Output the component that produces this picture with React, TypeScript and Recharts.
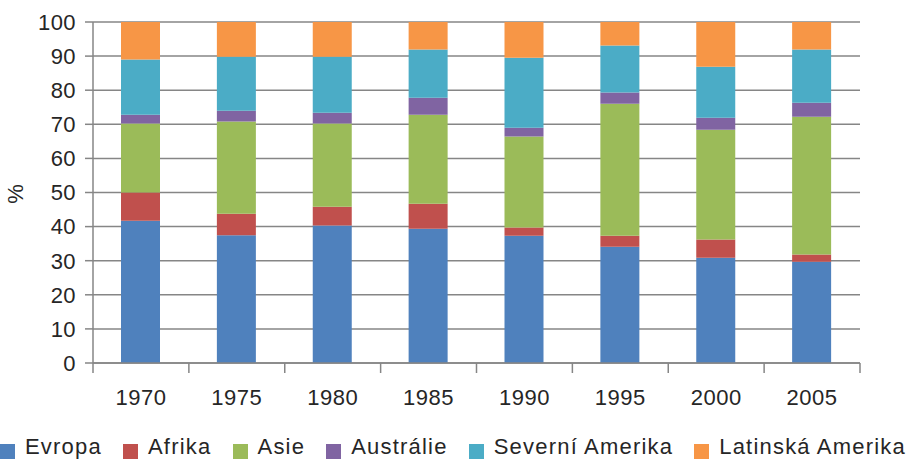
import { Bar, BarChart, CartesianGrid, Label, Legend, XAxis, YAxis } from "recharts"

const years = ["1970", "1975", "1980", "1985", "1990", "1995", "2000", "2005"]

const evropa = [41.7, 37.5, 40.3, 39.4, 37.3, 34.1, 30.9, 29.7]
const afrika = [8.3, 6.3, 5.5, 7.3, 2.4, 3.2, 5.3, 2.1]
const asie = [20.2, 27.0, 24.4, 26.1, 26.7, 38.7, 32.2, 40.4]
const australie = [2.6, 3.2, 3.2, 5.0, 2.6, 3.3, 3.5, 4.1]
const severniAmerika = [16.2, 15.8, 16.4, 14.1, 20.5, 13.8, 15.0, 15.6]
const latinskaAmerika = [11.0, 10.2, 10.2, 8.1, 10.5, 6.9, 13.1, 8.1]

const yTicks = [0, 10, 20, 30, 40, 50, 60, 70, 80, 90, 100]

const series = [
  { key: "evropa", name: "Evropa", color: "#4f81bd", values: evropa },
  { key: "afrika", name: "Afrika", color: "#c0504d", values: afrika },
  { key: "asie", name: "Asie", color: "#9bbb59", values: asie },
  { key: "australie", name: "Austrálie", color: "#8064a2", values: australie },
  { key: "severni", name: "Severní Amerika", color: "#4bacc6", values: severniAmerika },
  { key: "latinska", name: "Latinská Amerika", color: "#f79646", values: latinskaAmerika },
]

const data = years.map((year, i) => {
  const row: Record<string, string | number> = { year }
  series.forEach((s) => {
    row[s.key] = s.values[i]
  })
  return row
})

const W = 906
const H = 462
const FONT = "'Liberation Sans', Arial, Helvetica, sans-serif"
const TEXT = "#262626"
const GRID = "#868686"

// category labels in the middle, tick marks on the band edges
const YearTick = (props: any) => {
  const { x, y, payload, index, visibleTicksCount } = props
  const half = payload?.offset ?? (W - 93 - 46) / years.length / 2
  const last = index === visibleTicksCount - 1
  return (
    <g>
      <line x1={x - half} x2={x - half} y1={y} y2={y + 10} stroke={GRID} strokeWidth={1.5} />
      {last && <line x1={x + half} x2={x + half} y1={y} y2={y + 10} stroke={GRID} strokeWidth={1.5} />}
      <text
        x={x}
        y={y + 42}
        textAnchor="middle"
        fill={TEXT}
        fontSize={22}
        fontFamily={FONT}
        letterSpacing={0.5}
      >
        {payload.value}
      </text>
    </g>
  )
}

const LegendRow = () => (
  <div
    style={{
      display: "flex",
      justifyContent: "space-between",
      alignItems: "center",
      width: W,
      height: 30,
      fontFamily: FONT,
      fontSize: 22,
      letterSpacing: "1.2px",
      color: TEXT,
    }}
  >
    {series.map((s) => (
      <span key={s.key} style={{ display: "flex", alignItems: "center", whiteSpace: "nowrap" }}>
        <span
          style={{
            display: "inline-block",
            width: 15,
            height: 15,
            background: s.color,
            marginRight: 10,
            position: "relative",
            top: 4,
          }}
        />
        {s.name}
      </span>
    ))}
  </div>
)

export default function App() {
  return (
    <div style={{ position: "absolute", left: 0, top: 0, width: W, height: H, background: "#fff" }}>
      <BarChart width={W} height={H} data={data} margin={{ top: 22, right: 46, bottom: 0, left: 0 }} barSize={39}>
        <CartesianGrid vertical={false} stroke={GRID} strokeWidth={1.5} />
        <XAxis
          dataKey="year"
          height={69}
          tickSize={0}
          tickMargin={0}
          tickLine={false}
          axisLine={{ stroke: GRID, strokeWidth: 1.5 }}
          tick={<YearTick />}
          interval={0}
        />
        <YAxis
          width={93}
          domain={[0, 100]}
          ticks={yTicks}
          interval={0}
          tickSize={8}
          tickMargin={9}
          axisLine={{ stroke: GRID, strokeWidth: 1.5 }}
          tickLine={{ stroke: GRID, strokeWidth: 1.5 }}
          tick={{ fill: TEXT, fontSize: 22, fontFamily: FONT, letterSpacing: 0.4 }}
        >
          <Label
            content={() => (
              <text
                x={15}
                y={194}
                transform="rotate(-90, 15, 194)"
                textAnchor="middle"
                dominantBaseline="central"
                fill={TEXT}
                fontSize={22}
                fontFamily={FONT}
              >
                %
              </text>
            )}
          />
        </YAxis>
        {series.map((s) => (
          <Bar key={s.key} dataKey={s.key} name={s.name} stackId="a" fill={s.color} isAnimationActive={false} />
        ))}
        <Legend content={<LegendRow />} width={W} height={30} wrapperStyle={{ left: 0, bottom: 0 }} />
      </BarChart>
    </div>
  )
}
